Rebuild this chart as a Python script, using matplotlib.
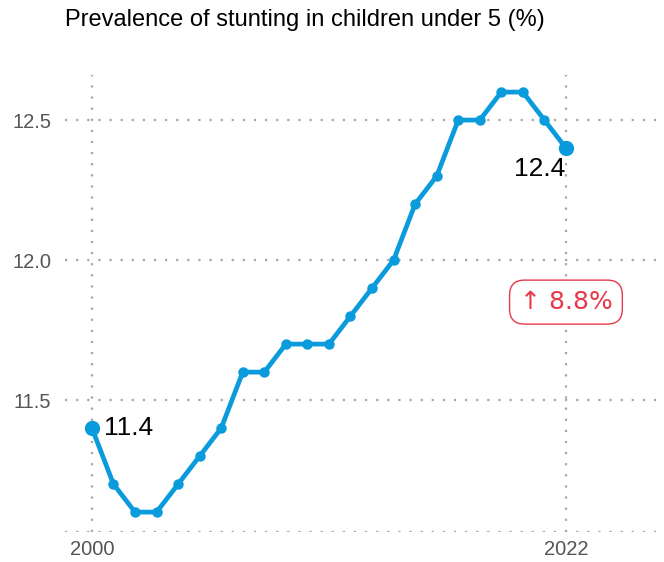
import matplotlib.pyplot as plt

plt.rcParams['font.family'] = ['Liberation Sans', 'DejaVu Sans']

# data
years = list(range(2000, 2023))
values = [11.4, 11.2, 11.1, 11.1, 11.2, 11.3, 11.4, 11.6, 11.6, 11.7, 11.7, 11.7,
          11.8, 11.9, 12.0, 12.2, 12.3, 12.5, 12.5, 12.6, 12.6, 12.5, 12.4]
yticks = [11.5, 12.0, 12.5]
xticks = [2000, 2022]
change_label = "↑ 8.8%"

blue = '#0a9bdc'
red = '#e8394a'
grid_kw = dict(color='#a6a6a6', linestyle=(0, (1, 4)), linewidth=1.6)

fig = plt.figure(figsize=(6.64, 5.62), dpi=100)
ax = fig.add_axes([65 / 664, 1 - 532 / 562, 1 - 65 / 664, (532 - 75) / 562])

ax.set_xlim(1998.75, 2026.55)
ax.set_ylim(11.029, 12.661)

for y in yticks:
    ax.axhline(y, **grid_kw, zorder=0)
ax.axhline(ax.get_ylim()[0], **grid_kw, zorder=0)
for x in xticks:
    ax.axvline(x, **grid_kw, zorder=0)

ax.plot(years, values, color=blue, linewidth=3.4, marker='o', markersize=6.5,
        solid_capstyle='round', zorder=3)
ax.plot([years[0], years[-1]], [values[0], values[-1]], linestyle='none',
        marker='o', markersize=10, color=blue, zorder=4)

ax.annotate(f"{values[0]}", (years[0], values[0]), xytext=(9, 0),
            textcoords='offset points', ha='left', va='center', fontsize=19)
ax.annotate(f"{values[-1]}", (years[-1], values[-1]), xytext=(-19, -15),
            textcoords='offset points', ha='center', va='center', fontsize=19)

ax.text(years[-1], 11.85, change_label, ha='center', va='center', fontsize=18,
        color=red, family=['DejaVu Sans'],
        bbox=dict(boxstyle='round,pad=0.4,rounding_size=0.6',
                  facecolor='white', edgecolor=red, linewidth=1))

ax.set_xticks(xticks)
ax.set_yticks(yticks)
ax.set_xticklabels([str(x) for x in xticks])
ax.set_yticklabels([f"{y:.1f}" for y in yticks])
ax.tick_params(length=0, labelsize=14.5, labelcolor='#555555', pad=10)
ax.tick_params(axis='x', pad=6)
for s in ax.spines.values():
    s.set_visible(False)

fig.text(65 / 664, 1 - 20 / 562, "Prevalence of stunting in children under 5 (%)",
         ha='left', va='center', fontsize=17)

fig.savefig('out.png', dpi=100)
